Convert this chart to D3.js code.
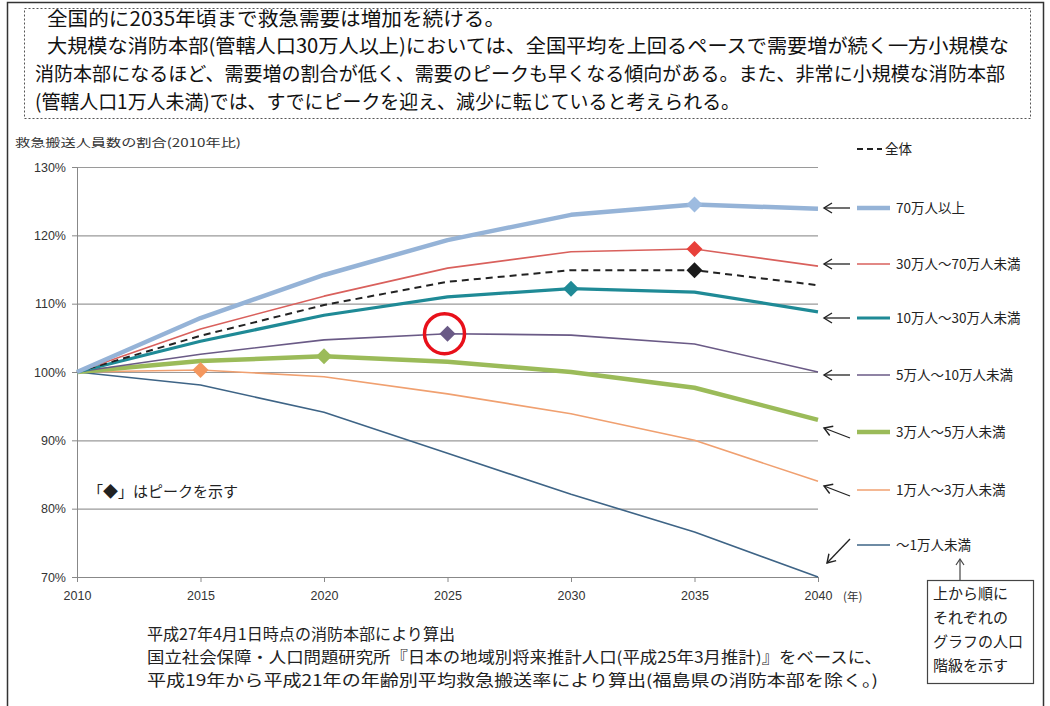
<!DOCTYPE html>
<html><head><meta charset="utf-8">
<script src="https://cdn.jsdelivr.net/npm/d3@7"></script>
<style>
body{margin:0;background:#fff;}
svg{display:block;font-family:"Noto Sans CJK JP","Noto Sans",sans-serif;}
.tick text{font-size:12.5px !important;font-family:"Liberation Sans",Arial,sans-serif;fill:#333;}
</style></head>
<body>
<svg id="c" width="1050" height="706"></svg>
<script>
const years = [2010, 2015, 2020, 2025, 2030, 2035, 2040];
const yTicks = [70, 80, 90, 100, 110, 120, 130];
const seriesNames = ["70万人以上","30万人～70万人未満","全体","10万人～30万人未満","5万人～10万人未満","3万人～5万人未満","1万人～3万人未満","～1万人未満"];
const v70 = [100, 107.9, 114.2, 119.3, 123.0, 124.5, 123.9];
const v30 = [100, 106.3, 111.1, 115.2, 117.6, 118.0, 115.5];
const vAll = [100, 105.3, 109.8, 113.2, 114.9, 114.9, 112.7];
const v10 = [100, 104.5, 108.3, 111.0, 112.2, 111.7, 108.8];
const v5 = [100, 102.6, 104.7, 105.6, 105.4, 104.1, 100.0];
const v3 = [100, 101.6, 102.3, 101.5, 100.0, 97.7, 93.0];
const v1 = [100, 100.3, 99.3, 96.8, 93.9, 90.0, 84.0];
const v0 = [100, 98.1, 94.1, 88.1, 82.1, 76.6, 70.0];
const peakYears = [2035, 2035, 2035, 2030, 2025, 2020, 2015, null];
const headText = ["全国的に2035年頃まで救急需要は増加を続ける。",
 "大規模な消防本部(管轄人口30万人以上)においては、全国平均を上回るペースで需要増が続く一方小規模な",
 "消防本部になるほど、需要増の割合が低く、需要のピークも早くなる傾向がある。また、非常に小規模な消防本部",
 "(管轄人口1万人未満)では、すでにピークを迎え、減少に転じていると考えられる。"];
const noteText = ["平成27年4月1日時点の消防本部により算出",
 "国立社会保障・人口問題研究所『日本の地域別将来推計人口(平成25年3月推計)』をベースに、",
 "平成19年から平成21年の年齢別平均救急搬送率により算出(福島県の消防本部を除く。)"];
const boxText = ["上から順に","それぞれの","グラフの人口","階級を示す"];

const seriesVals = [v70, v30, vAll, v10, v5, v3, v1, v0];
const styles = [
 {c:"#95b3d7", w:4.5, m:"#9dbbe0"},
 {c:"#d9605c", w:1.6, m:"#e8403a"},
 {c:"#222", w:2, m:"#1a1a1a", dash:"7,5"},
 {c:"#1f8a96", w:3.2, m:"#1f8a96"},
 {c:"#6a5a86", w:1.6, m:"#6a5a86"},
 {c:"#9bbb59", w:4.5, m:"#9bbb59"},
 {c:"#f0a070", w:1.6, m:"#f4975e"},
 {c:"#3e6486", w:1.6, m:"#3e6486"}
];
const legendY = [208, 264, 149, 318, 375, 432, 490, 545];

const svg = d3.select("#c");
// outer frame
svg.append("path").attr("d","M7.5,706 V2.5 H1043.5 V706").attr("fill","none").attr("stroke","#333").attr("stroke-width",1.5);
// dotted text box
svg.append("rect").attr("x",24.5).attr("y",8.5).attr("width",1006).attr("height",110)
 .attr("fill","none").attr("stroke","#555").attr("stroke-width",1).attr("stroke-dasharray","2,2");
const headPos = [{x:47,y:26,w:458},{x:47,y:53,w:962},{x:35,y:81,w:970},{x:35,y:109,w:705}];
headText.forEach((t,i)=>{
 svg.append("text").attr("x",headPos[i].x).attr("y",headPos[i].y).attr("font-size",19.5)
  .attr("fill","#111").attr("textLength",headPos[i].w).attr("lengthAdjust","spacingAndGlyphs").text(t);
});

const x = d3.scaleLinear().domain([2010,2040]).range([77,818]);
const y = d3.scaleLinear().domain([70,130]).range([577,167]);

// y title
svg.append("text").attr("x",15).attr("y",147).attr("font-size",11.5).attr("fill","#333")
 .attr("textLength",226).attr("lengthAdjust","spacingAndGlyphs").text("救急搬送人員数の割合(2010年比)");

// grid
svg.append("g").selectAll("line").data(yTicks.filter(d=>d>70)).join("line")
 .attr("x1",x(2010)).attr("x2",x(2040)).attr("y1",d=>y(d)+0.5).attr("y2",d=>y(d)+0.5)
 .attr("stroke","#9a9a9a").attr("stroke-width",1.2);

// y axis
const ya = svg.append("g").attr("transform",`translate(${x(2010)},0)`)
 .call(d3.axisLeft(y).tickValues(yTicks).tickSize(5).tickFormat(d=>d+"%"));
ya.attr("font-size",null).attr("font-family",null);
ya.select(".domain").attr("stroke","#888");
ya.selectAll(".tick line").attr("stroke","#888");
ya.selectAll(".tick text").attr("dx",-3);

// x axis
const xa = svg.append("g").attr("transform",`translate(0,${y(70)})`)
 .call(d3.axisBottom(x).tickValues(years).tickSize(5).tickFormat(d3.format("d")));
xa.attr("font-size",null).attr("font-family",null);
xa.select(".domain").attr("stroke","#888");
xa.selectAll(".tick line").attr("stroke","#888");
xa.selectAll(".tick text").attr("dy",15);
svg.append("text").attr("x",843).attr("y",601).attr("font-size",11.5).attr("fill","#333").text("(年)");

// lines (draw bottom first)
const line = d3.line().x((d,i)=>x(years[i])).y(d=>y(d));
const order = [7,6,5,4,3,2,1,0];
order.forEach(k=>{
 svg.append("path").datum(seriesVals[k]).attr("d",line).attr("fill","none")
  .attr("stroke",styles[k].c).attr("stroke-width",styles[k].w)
  .attr("stroke-dasharray",styles[k].dash||null).attr("stroke-linejoin","round");
});
// peak markers (square diamonds)
const dm = 8;
order.forEach(k=>{
 const py = peakYears[k];
 if(py===null) return;
 const i = years.indexOf(py);
 svg.append("path").attr("d",`M0,${-dm} L${dm},0 L0,${dm} L${-dm},0 Z`)
  .attr("transform",`translate(${x(py)},${y(seriesVals[k][i])})`)
  .attr("fill",styles[k].m);
});
// red circle on 5万-10万 peak
{
 const i = years.indexOf(peakYears[4]);
 svg.append("circle").attr("cx",x(peakYears[4])-3).attr("cy",y(seriesVals[4][i])).attr("r",20)
  .attr("fill","none").attr("stroke","#e8101a").attr("stroke-width",3.5);
}

// legend
const defs = svg.append("defs");
defs.append("marker").attr("id","ah").attr("viewBox","0 0 12 12").attr("refX",10).attr("refY",6)
 .attr("markerWidth",12).attr("markerHeight",12).attr("markerUnits","userSpaceOnUse").attr("orient","auto")
 .append("path").attr("d","M2,1 L10,6 L2,11").attr("fill","none").attr("stroke","#222").attr("stroke-width",1.4);

seriesNames.forEach((n,k)=>{
 const ly = legendY[k];
 svg.append("line").attr("x1",857).attr("x2",k===2?882:890).attr("y1",ly).attr("y2",ly)
  .attr("stroke",styles[k].c).attr("stroke-width",Math.min(styles[k].w,4.5)).attr("stroke-dasharray",styles[k].dash?"6,4":null);
 svg.append("text").attr("x",k===2?885:896).attr("y",ly+5).attr("font-size",13.5).attr("fill","#222").text(n);
 if(k===2) return;
 let x1=850, y1=ly, x2=824, y2=ly;
 if(k===5||k===6){ y1 = ly+6; y2 = ly-4; }
 if(k===7){ x1=850; y1=ly-6; x2=827; y2=ly+18; }
 svg.append("line").attr("x1",x1).attr("y1",y1).attr("x2",x2).attr("y2",y2)
  .attr("stroke","#222").attr("stroke-width",1.3).attr("marker-end","url(#ah)");
});

// info box
svg.append("line").attr("x1",960).attr("x2",960).attr("y1",580).attr("y2",560).attr("stroke","#444").attr("stroke-width",1.2);
svg.append("path").attr("d","M956,565 L960,559 L964,565").attr("fill","none").attr("stroke","#444").attr("stroke-width",1.2);
svg.append("rect").attr("x",927.5).attr("y",580.5).attr("width",106).attr("height",103).attr("fill","#fff").attr("stroke","#444").attr("stroke-width",1.2);
boxText.forEach((t,i)=>{
 svg.append("text").attr("x",933).attr("y",599+i*24).attr("font-size",15).attr("fill","#222").text(t);
});

// peak note
svg.append("text").attr("x",88).attr("y",497).attr("font-size",15).attr("fill","#222").text("「◆」はピークを示す");

// notes
const noteW = [308, 735, 731];
noteText.forEach((t,i)=>{
 svg.append("text").attr("x",147).attr("y",640+i*23).attr("font-size",15.5).attr("fill","#222")
  .attr("textLength",noteW[i]).attr("lengthAdjust","spacingAndGlyphs").text(t);
});
</script>
</body></html>
